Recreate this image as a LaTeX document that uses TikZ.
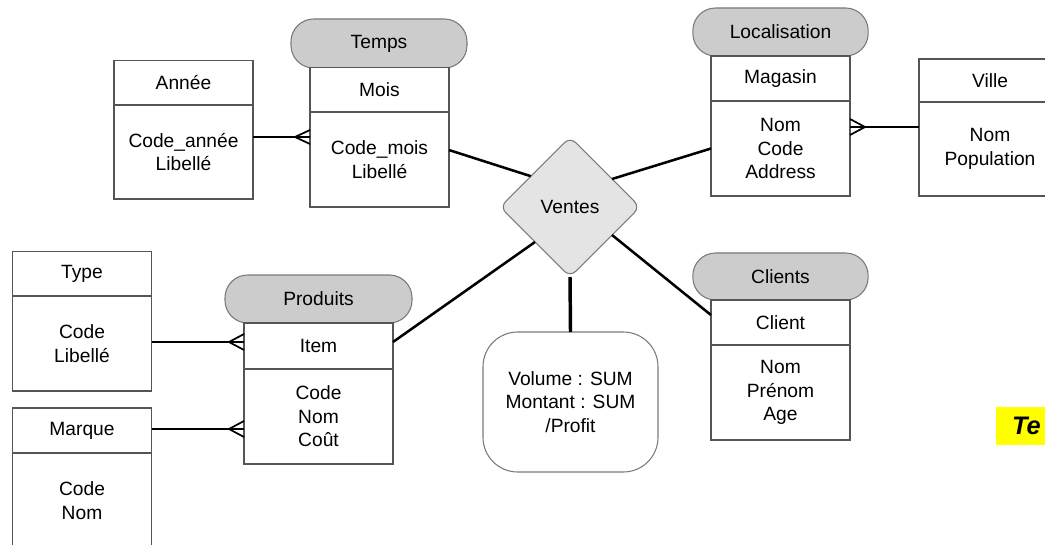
\documentclass[tikz,border=0pt]{standalone}
\usepackage{fontspec}
\setmainfont{Liberation Sans}
\usetikzlibrary{shapes.geometric,calc}
\definecolor{boxc}{HTML}{555555}
\definecolor{pillfill}{HTML}{CCCCCC}
\definecolor{pillc}{HTML}{7A7A7A}
\definecolor{diafill}{HTML}{E4E4E4}
\definecolor{hlyellow}{HTML}{FFFF00}
\begin{document}
\begin{tikzpicture}[x=0.75pt,y=-0.75pt,
  every node/.style={font=\fontsize{14.4pt}{17.6pt}\selectfont, align=center, inner sep=0pt, outer sep=0pt},
  hdr/.style={draw=boxc, line width=0.8pt, fill=white, minimum width=104.25pt, minimum height=33.4pt},
  bdy/.style={draw=boxc, line width=0.8pt, fill=white, minimum width=104.25pt, minimum height=71.25pt},
  pill/.style={draw=pillc, line width=0.8pt, fill=pillfill, rounded corners=17pt, minimum width=131.5pt, minimum height=36pt},
  conn/.style={line width=1.9pt, black},
  connthick/.style={line width=2.6pt, black},
  rel/.style={line width=1.3pt, black}
]
\useasboundingbox (0,0) rectangle (1045,545);
\clip (0,0) rectangle (1045,545);
\fill[white] (0,0) rectangle (1045,545);

% Temps
\node[hdr] (annee) at (183.5,83) {Année};
\node[bdy, minimum height=70.5pt] (anneeb) at (183.5,152) {Code\_année\\Libellé};
\node[pill, minimum width=132pt, minimum height=36.75pt] (temps) at (379,43.5) {Temps};
\node[hdr] (mois) at (379.5,90) {Mois};
\node[bdy] (moisb) at (379.5,159.5) {Code\_mois\\Libellé};

% Localisation
\node[pill, minimum height=36pt] (loc) at (780.5,32) {Localisation};
\node[hdr, minimum height=33.75pt] (magasin) at (780.5,78.5) {Magasin};
\node[bdy] (magb) at (780.5,148.5) {Nom\\Code\\Address};
\node[hdr, minimum width=106.5pt, minimum height=32.25pt] (ville) at (990,80.5) {Ville};
\node[bdy, minimum width=106.5pt, minimum height=70.5pt] (villeb) at (990,149) {Nom\\Population};

% Ventes
\node[diamond, draw=pillc, line width=0.8pt, fill=diafill, rounded corners=6pt,
      minimum width=105pt, minimum height=105pt] (v) at (570,207) {Ventes};

% Produits
\node[hdr] (type) at (82,274) {Type};
\node[bdy] (typeb) at (82,343.5) {Code\\Libellé};
\node[hdr, minimum height=33.75pt] (marque) at (82,430.5) {Marque};
\node[bdy] (marqueb) at (82,500.5) {Code\\Nom};
\node[pill, minimum width=140.25pt, minimum height=36pt] (produits) at (318.5,299) {Produits};
\node[hdr, minimum width=111.75pt, minimum height=34.5pt] (item) at (318.5,346) {Item};
\node[bdy, minimum width=111.75pt] (itemb) at (318.5,416.5) {Code\\Nom\\Coût};

% Mesures
\node[draw=pillc, line width=0.8pt, fill=white, rounded corners=26pt,
      minimum width=131.25pt, minimum height=105pt] (meas) at (570.5,402) {Volume : SUM\\Montant : SUM\\/Profit};

% Clients
\node[pill, minimum height=35.25pt] (clients) at (780.5,276.5) {Clients};
\node[hdr, minimum height=33.75pt] (client) at (780.5,322.5) {Client};
\node[bdy] (clientb) at (780.5,392.5) {Nom\\Prénom\\Age};

% Highlight (cut off)
\node[anchor=west, fill=hlyellow, minimum height=28.5pt, text width=40pt, inner xsep=12pt, align=left,
      font=\fontsize{19pt}{22pt}\selectfont\bfseries\itshape] (hl) at (996,426) {Te};

% Connectors to the fact
\draw[conn] ([yshift=7.1pt]moisb.east) -- ($(v.west)!0.44!(v.north)$);
\draw[conn] ($(v.north)!0.6!(v.east)$) -- (magb.west);
\draw[conn] ($(v.west)!0.5!(v.south)$) -- ([yshift=3pt]item.east);
\draw[conn] ($(v.south)!0.6!(v.east)$) -- ([yshift=5.6pt]client.west);
\draw[connthick] (v.south) -- (meas.north);

% Hierarchy links with crow's feet
\coordinate (f1) at ($(moisb.west)+(0,-22.5)$);
\draw[rel] (anneeb.east |- f1) -- (f1);
\draw[rel] ($(f1)+(0,-7)$) -- ($(f1)+(-15,0)$) -- ($(f1)+(0,7)$);

\coordinate (f2) at ($(magb.east)+(0,-21.5)$);
\draw[rel] (f2) -- (villeb.west |- f2);
\draw[rel] ($(f2)+(0,-8)$) -- ($(f2)+(15,0)$) -- ($(f2)+(0,8)$);

\coordinate (f3) at ($(item.west)+(0,-4)$);
\draw[rel] (typeb.east |- f3) -- (f3);
\draw[rel] ($(f3)+(0,-8)$) -- ($(f3)+(-15,0)$) -- ($(f3)+(0,8)$);

\coordinate (f4) at ($(itemb.west)+(0,12.5)$);
\draw[conn, line width=1.7pt] (marque.east |- f4) -- (f4);
\draw[rel] ($(f4)+(0,-8)$) -- ($(f4)+(-15,0)$) -- ($(f4)+(0,8)$);
\end{tikzpicture}
\end{document}
